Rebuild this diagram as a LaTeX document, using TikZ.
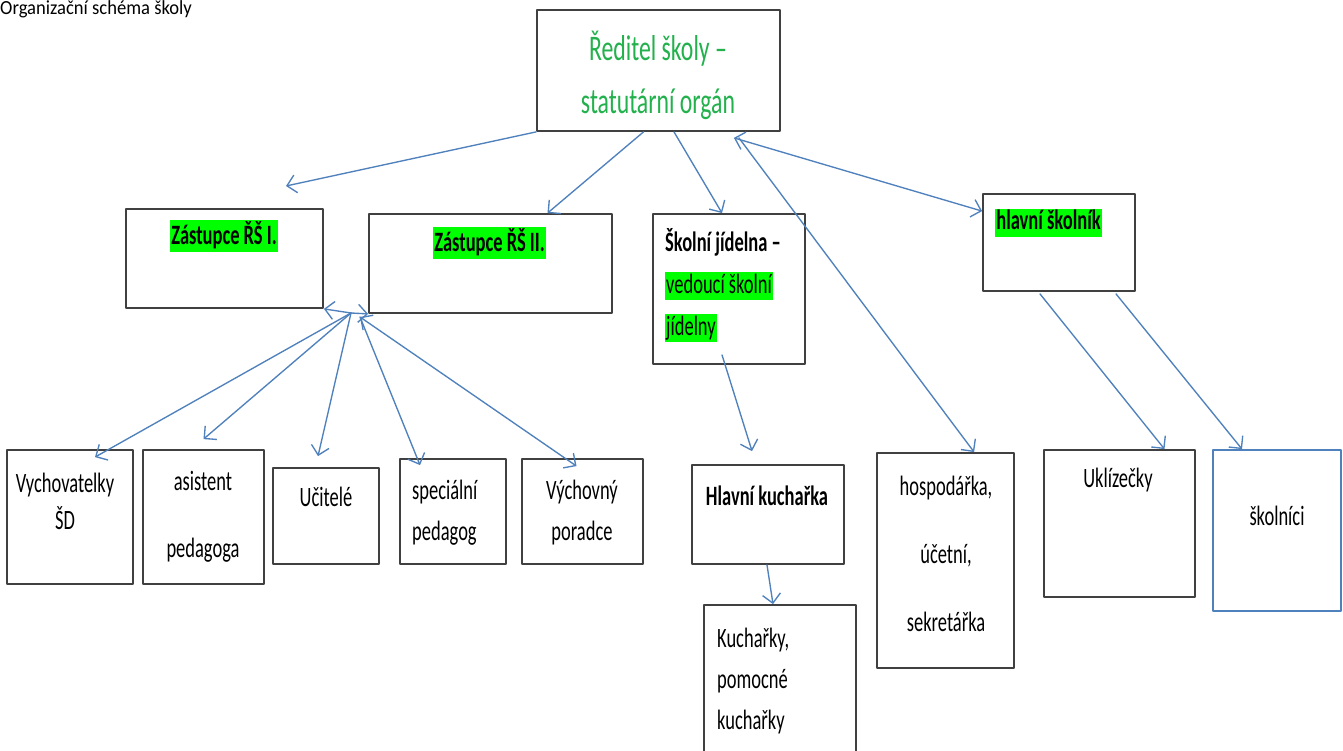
\documentclass[tikz,border=0pt]{standalone}
\usepackage{fontspec}
\setmainfont{Carlito}[FakeStretch=0.66]
\newfontfamily\titlefont{Carlito}[FakeStretch=0.93]
\usetikzlibrary{arrows.meta}

\definecolor{lineblue}{RGB}{79,129,189}
\definecolor{boxgray}{RGB}{64,64,64}
\definecolor{hlgreen}{RGB}{0,255,0}
\definecolor{headgreen}{RGB}{34,177,76}

% green marker behind a text
\newcommand{\markgreen}[1]{{\setlength{\fboxsep}{1pt}\colorbox{hlgreen}{\rule[-6pt]{0pt}{26pt}#1}}}

\tikzset{
  box/.style={draw=boxgray, line width=1.8pt, inner sep=0pt},
  lbl/.style={inner sep=0pt, align=center, font=\fontsize{28}{#1}\selectfont},
  lbl/.default=41,
  conn/.style={draw=lineblue, line width=1.35pt, -{Straight Barb[length=9pt,width=18pt]}},
}

\begin{document}
\begin{tikzpicture}[x=1pt, y=-1pt, line cap=round, line join=round]
% === Canvas ===
\fill[white] (0,0) rectangle (1343,751);
\useasboundingbox (0,0) rectangle (1343,751);

\node[anchor=base west, inner sep=0pt, font=\titlefont\fontsize{20}{24}\selectfont] (title) at (0,15) {Organizační schéma školy};

% === Boxes ===
\node[box, minimum width=243, minimum height=121] (reditel) at (658.5,70.5) {};
\node[box, minimum width=197, minimum height=99] (zast1) at (224.5,258.5) {};
\node[box, minimum width=243, minimum height=99] (zast2) at (490.5,263.5) {};
\node[box, minimum width=152, minimum height=150] (jidelna) at (729,289) {};
\node[box, minimum width=152, minimum height=97] (skolnik) at (1059,242.5) {};

\node[box, minimum width=126, minimum height=134] (vych) at (70,517) {};
\node[box, minimum width=121, minimum height=134] (asist) at (203.5,517) {};
\node[box, minimum width=106, minimum height=96] (ucitele) at (326,516) {};
\node[box, minimum width=106, minimum height=105] (special) at (453,511.5) {};
\node[box, minimum width=121, minimum height=105] (vychovny) at (582.5,511.5) {};
\node[box, minimum width=152, minimum height=99] (kucharka) at (768,514.5) {};
\node[box, minimum width=152, minimum height=160] (kuchar) at (780,685) {};
\node[box, minimum width=137, minimum height=215] (hospod) at (945.5,560.5) {};
\node[box, minimum width=151, minimum height=147] (uklid) at (1119.5,523.5) {};
\node[box, draw=lineblue, minimum width=128, minimum height=161] (skolnici) at (1277,530.5) {};

% === Texts ===
\node[lbl=53, font=\fontsize{36}{53}\selectfont, text=headgreen] (reditel-t) at (658,75) {Ředitel školy –\\statutární orgán};
\node[lbl] (zast1-t) at (224,236) {\markgreen{\textbf{Zástupce ŘŠ I.}}};
\node[lbl] (zast2-t) at (489.5,243) {\markgreen{\textbf{Zástupce ŘŠ II.}}};
\node[lbl=42, align=left, anchor=west] (jidelna-t) at (665,285) {\textbf{Školní jídelna –}\\\markgreen{vedoucí školní}\\\markgreen{jídelny}};
\node[lbl] (skolnik-t) at (1048.5,222.5) {\markgreen{\textbf{hlavní školník}}};

\node[lbl=37] (vych-t) at (65,501.5) {Vychovatelky\\ŠD};
\node[lbl=67] (asist-t) at (203,516.5) {asistent\\pedagoga};
\node[lbl] (ucitele-t) at (326,497) {Učitelé};
\node[lbl=41, align=left, anchor=west] (special-t) at (412,512.5) {speciální\\pedagog};
\node[lbl=41] (vychovny-t) at (582,512.5) {Výchovný\\poradce};
\node[lbl] (kucharka-t) at (767,496) {\textbf{Hlavní kuchařka}};
\node[lbl=41, align=left, anchor=west] (kuchar-t) at (717,681) {Kuchařky,\\pomocné\\kuchařky};
\node[lbl=68] (hospod-t) at (946,554) {hospodářka,\\účetní,\\sekretářka};
\node[lbl] (uklid-t) at (1118,480) {Uklízečky};
\node[lbl] (skolnici-t) at (1277,516) {školníci};

% === Connectors ===
\coordinate (zast1in) at (286,186);
\coordinate (hubL) at (351,313);
\coordinate (hubR) at (360,317);

\draw[conn] (reditel.south west) -- (zast1in);
\draw[conn] ([xshift=-15pt]reditel.south) -- ([xshift=57pt]zast2.north);
\draw[conn] ([xshift=15.5pt]reditel.south) -- ([xshift=-7pt]jidelna.north);
\draw[conn, {Straight Barb[length=9pt,width=18pt]}-{Straight Barb[length=9pt,width=18pt]}] ([xshift=-47pt,yshift=-6pt]reditel.south east) -- ([yshift=-18pt]skolnik.north west);
\draw[conn] ([xshift=-42pt,yshift=-6pt]reditel.south east) -- ([xshift=98pt]hospod.north west);

\draw[conn] ([xshift=-7pt,yshift=10pt]jidelna.south) -- ([xshift=-16pt,yshift=13pt]kucharka.north);
\draw[conn] ([xshift=-1pt]kucharka.south) -- ([xshift=-7pt]kuchar.north);
\draw[conn] ([xshift=-19pt,yshift=-2pt]skolnik.south) -- ([xshift=45pt]uklid.north);
\draw[conn] ([xshift=57pt,yshift=-2pt]skolnik.south) -- ([xshift=-35pt]skolnici.north);

% deputies to staff
\draw[conn] (hubL) -- (zast1.south east);
\draw[conn] (hubL) -- (zast2.south west);
\draw[conn] (hubL) -- ([xshift=25pt,yshift=-8pt]vych.north);
\draw[conn] (hubL) -- ([yshift=10pt]asist.north);
\draw[conn] (hubL) -- ([xshift=-8pt,yshift=11pt]ucitele.north);
\draw[conn] (hubR) -- ([xshift=-33pt,yshift=-7pt]special.north);
\draw[conn, {Straight Barb[length=9pt,width=18pt]}-{Straight Barb[length=9pt,width=18pt]}] (hubR) -- ([xshift=-6pt,yshift=-8pt]vychovny.north);
\end{tikzpicture}
\end{document}
